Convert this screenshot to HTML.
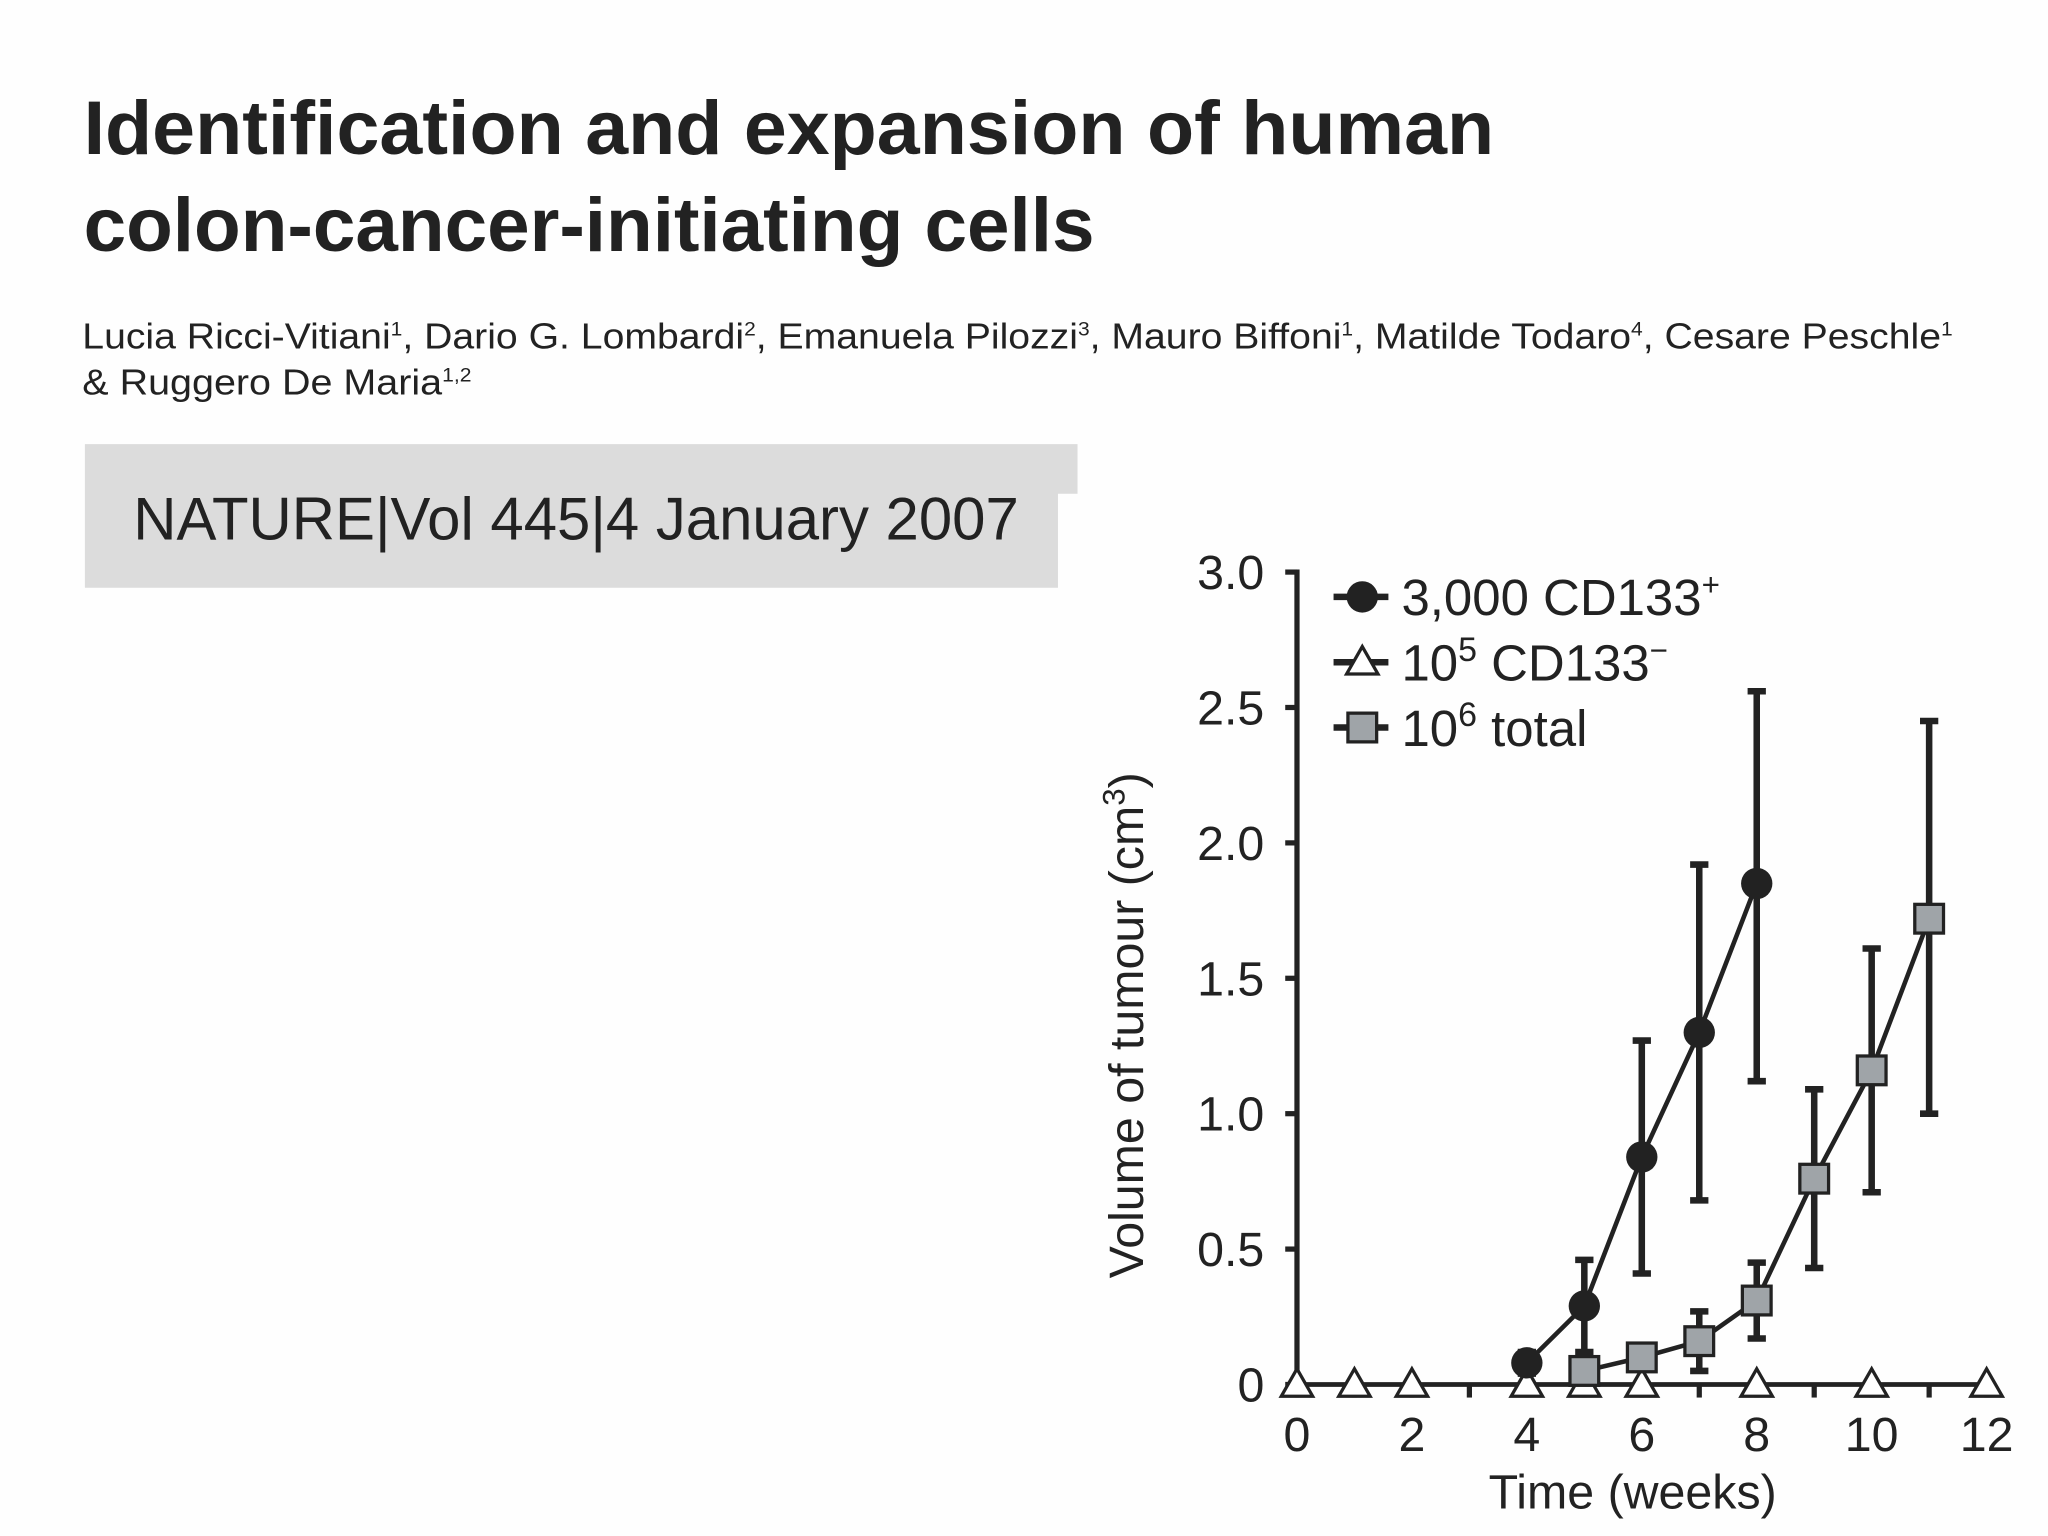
<!DOCTYPE html>
<html><head><meta charset="utf-8"><style>html,body{margin:0;padding:0;background:#fff}svg{display:block}text{font-family:"Liberation Sans",sans-serif}</style></head>
<body>
<svg width="2048" height="1536" viewBox="0 0 1568 1176" xmlns="http://www.w3.org/2000/svg">
<rect width="1568" height="1176" fill="#fefefe"/>
<g fill="#222" font-weight="bold" font-size="58">
<text x="64" y="118" textLength="1080" lengthAdjust="spacingAndGlyphs">Identification and expansion of human</text>
<text x="64" y="192" textLength="774" lengthAdjust="spacingAndGlyphs">colon-cancer-initiating cells</text>
</g>
<g fill="#222" font-size="28">
<text x="63" y="267" textLength="1432" lengthAdjust="spacingAndGlyphs">Lucia Ricci-Vitiani<tspan font-size="15" dy="-10">1</tspan><tspan dy="10">, Dario G. Lombardi</tspan><tspan font-size="15" dy="-10">2</tspan><tspan dy="10">, Emanuela Pilozzi</tspan><tspan font-size="15" dy="-10">3</tspan><tspan dy="10">, Mauro Biffoni</tspan><tspan font-size="15" dy="-10">1</tspan><tspan dy="10">, Matilde Todaro</tspan><tspan font-size="15" dy="-10">4</tspan><tspan dy="10">, Cesare Peschle</tspan><tspan font-size="15" dy="-10">1</tspan></text>
<text x="63" y="302" textLength="298" lengthAdjust="spacingAndGlyphs">&amp; Ruggero De Maria<tspan font-size="15" dy="-10">1,2</tspan></text>
</g>
<path d="M65 340H825V378H810V450H65Z" fill="#dcdcdc"/>
<text x="102" y="413" font-size="46" fill="#222" textLength="678" lengthAdjust="spacingAndGlyphs">NATURE|Vol 445|4 January 2007</text>
<g id="chart"></g>
</svg>
<script>
const weeks=[0,1,2,3,4,5,6,7,8,9,10,11,12];
const yTicks=[0,0.5,1.0,1.5,2.0,2.5,3.0];
const yTickLabels=["0","0.5","1.0","1.5","2.0","2.5","3.0"];
const xTickLabels=["0","2","4","6","8","10","12"];
const cdPosX=[4,5,6,7,8];
const cdPosY=[0.08,0.29,0.84,1.30,1.85];
const cdPosHi=[0.12,0.46,1.27,1.92,2.56];
const cdPosLo=[0.04,0.12,0.41,0.68,1.12];
const totX=[5,6,7,8,9,10,11];
const totY=[0.05,0.10,0.16,0.31,0.76,1.16,1.72];
const totHi=[0.08,0.13,0.27,0.45,1.09,1.61,2.45];
const totLo=[0.02,0.07,0.05,0.17,0.43,0.71,1.00];
const cdNegX=[0,1,2,4,5,6,8,10,12];
const cdNegY=[0,0,0,0,0,0,0,0,0];
const NS="http://www.w3.org/2000/svg";
const g=document.getElementById('chart');
const X=v=>993+v*44;
const Y=v=>1060-v*(622/3);
function el(t,a,p){const e=document.createElementNS(NS,t);for(const k in a)e.setAttribute(k,a[k]);(p||g).appendChild(e);return e;}
let e=el('line',{x1:993,y1:436,x2:993,y2:1062,stroke:'#222','stroke-width':4});


e=el('line',{x1:991,y1:1060,x2:1523,y2:1060,stroke:'#222','stroke-width':3.5});


yTicks.forEach((v,i)=>{
 let t=el('line',{x1:984,y1:Y(v),x2:993,y2:Y(v),stroke:'#222','stroke-width':4});
 
 
 let l=el('text',{x:968,y:Y(v)+13,'text-anchor':'end','font-size':37,fill:'#222'});
 l.textContent=yTickLabels[i];
 
 
});
weeks.forEach(w=>{
 let t=el('line',{x1:X(w),y1:1060,x2:X(w),y2:1070,stroke:'#222','stroke-width':4});
 
 
});
xTickLabels.forEach(s=>{
 let l=el('text',{x:X(+s),y:1111,'text-anchor':'middle','font-size':37,fill:'#222'});
 l.textContent=s;
 
 
});
let yt=el('text',{x:0,y:0,transform:'translate(875,785) rotate(-90)','text-anchor':'middle','font-size':37,fill:'#222'});
yt.innerHTML='Volume of tumour (cm<tspan font-size="24" dy="-14">3</tspan><tspan dy="14">)</tspan>';


let xt=el('text',{x:1250,y:1155,'text-anchor':'middle','font-size':37,fill:'#222'});
xt.textContent='Time (weeks)';


function series(xs,ys,hi,lo,name,marker){
 const sg=el('g',{});
 
 
 let p=el('polyline',{points:xs.map((x,i)=>X(x)+','+Y(ys[i])).join(' '),fill:'none',stroke:'#222','stroke-width':3.5},sg);
 
 
 if(hi) xs.forEach((x,i)=>{
  let b=el('path',{d:`M${X(x)} ${Y(hi[i])}V${Y(lo[i])}M${X(x)-7} ${Y(hi[i])}h14M${X(x)-7} ${Y(lo[i])}h14`,stroke:'#222','stroke-width':5,fill:'none'},sg);
  
  
 });
 xs.forEach((x,i)=>{
  let m=marker(X(x),Y(ys[i]),sg);
  
  
 });
}
const circ=(x,y,p)=>el('circle',{cx:x,cy:y,r:12,fill:'#222'},p);
const tri=(x,y,p)=>el('path',{d:`M${x} ${y-12}L${x+12} ${y+9}H${x-12}Z`,fill:'#fff',stroke:'#222','stroke-width':2.5},p);
const sq=(x,y,p)=>el('rect',{x:x-11,y:y-11,width:22,height:22,fill:'#9fa4a8',stroke:'#222','stroke-width':2.5},p);
series(cdNegX,cdNegY,null,null,'cd133-neg',tri);
series(totX,totY,totHi,totLo,'total-cells',sq);
series(cdPosX,cdPosY,cdPosHi,cdPosLo,'cd133-pos',circ);
const leg=[circ,tri,sq];
const lg=el('g',{});


leg.forEach((mk,i)=>{
 const y=457+i*50;
 el('line',{x1:1021,y1:y,x2:1063,y2:y,stroke:'#222','stroke-width':5},lg);
 mk(1043,y,lg);
 let t=el('text',{x:1073,y:y+14,'font-size':39,fill:'#222'},lg);
 if(i==0) t.innerHTML='3,000 CD133<tspan font-size="24" dy="-15">+</tspan>';
 else if(i==1) t.innerHTML='10<tspan font-size="26" dy="-15">5</tspan><tspan dy="15"> CD133</tspan><tspan font-size="24" dy="-15">−</tspan>';
 else t.innerHTML='10<tspan font-size="26" dy="-15">6</tspan><tspan dy="15"> total</tspan>';
 
 
});
</script>
</body></html>
